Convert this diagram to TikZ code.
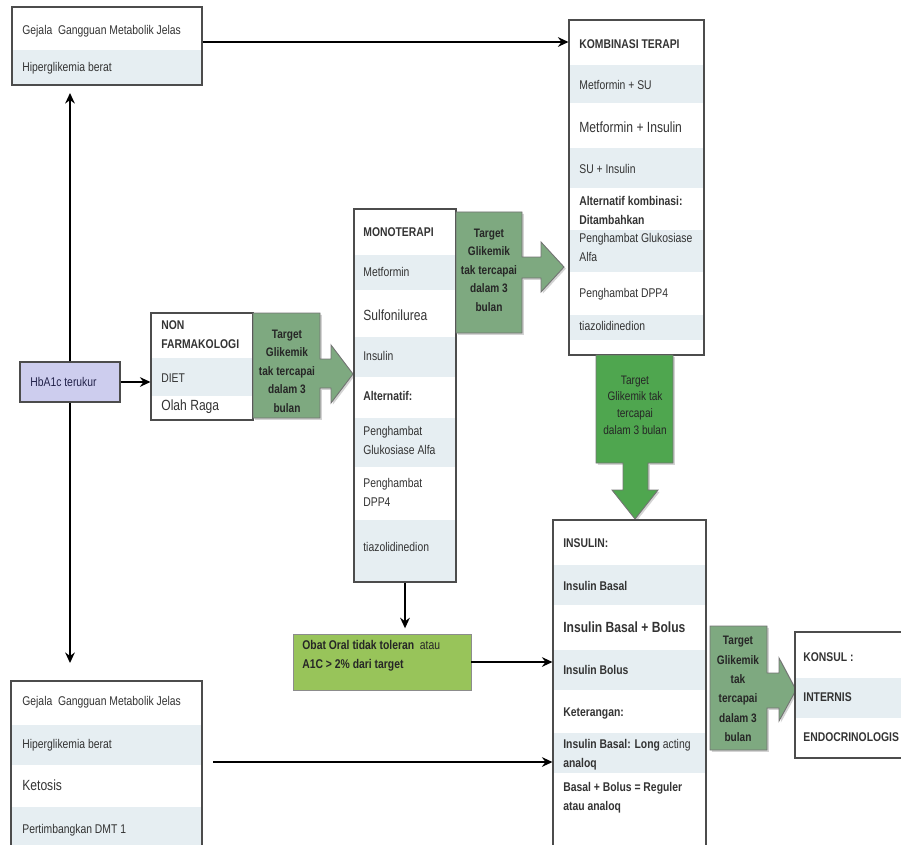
\documentclass[tikz,border=0pt]{standalone}
\usepackage{fontspec}
\setmainfont[FakeStretch=0.82]{Liberation Sans}
\usepackage{xcolor}
\usepackage{tikz}
\usetikzlibrary{
  arrows.meta,
  positioning,
  fit,
  calc,
  shadows
}

\definecolor{rowblue}{HTML}{E6EEF2}
\definecolor{callgreen}{HTML}{7EA980}
\definecolor{brightgreen}{HTML}{4FA64F}
\definecolor{oralgreen}{HTML}{98C45A}
\definecolor{hbalav}{HTML}{CDCDEE}
\definecolor{navy}{HTML}{22224A}

\begin{document}
\begin{tikzpicture}[
    x=0.02cm, y=-0.02cm,
    frame/.style={draw=black!70, line width=0.6pt, inner sep=0pt},
    shade/.style={fill=rowblue},
    txt/.style={anchor=west, inner sep=0pt, align=left, text=black!80,
                font=\fontsize{7.2}{10.8}\selectfont},
    big/.style={txt, font=\fontsize{8.4}{11}\selectfont},
    bld/.style={txt, font=\fontsize{7.2}{10.8}\selectfont\bfseries},
    bigb/.style={txt, font=\fontsize{8.4}{11}\selectfont\bfseries},
    arr/.style={-{Stealth[length=6pt, width=5.5pt, inset=2pt]}, line width=1.1pt},
    call/.style={fill=callgreen, draw=black!55, line width=0.5pt,
                 drop shadow={opacity=0.35, shadow xshift=1pt, shadow yshift=-1pt}},
    calltxt/.style={align=center, inner sep=0pt, text=black!85,
                    font=\fontsize{7}{10.5}\selectfont\bfseries},
  ]
  \clip (0,0) rectangle (901,844);

  % ---- Gejala (atas) ----
  \fill[shade] (12,50) rectangle (202,85);
  \node[frame, fit={(12,7) (202,85)}] (gejA) {};
  \node[txt] (gejA1) at (22,31) {Gejala\ \ Gangguan Metabolik Jelas};
  \node[txt] (gejA2) at (22,68) {Hiperglikemia berat};

  % ---- HbA1c ----
  \node[draw=black!70, fill=hbalav, line width=0.6pt, inner sep=0pt,
        minimum width=2cm, minimum height=0.8cm] (hba) at (70,382) {};
  \node[txt, text=navy] (hbatxt) at (30,382) {HbA1c terukur};
  \coordinate (upTip) at (70,93);
  \coordinate (downTip) at (70,663);

  % ---- Non farmakologi ----
  \fill[shade] (151,358) rectangle (253,396);
  \node[frame, fit={(151,313) (253,420)}] (nonf) {};
  \node[bld] (nf1) at (161,335) {NON\\FARMAKOLOGI};
  \node[txt] (nf2) at (161,378) {DIET};
  \node[big] (nf3) at (161,407) {Olah Raga};

  % ---- Callout 1 ----
  \filldraw[call] (253,313) -- (320,313) -- (320,359) -- (331,359) -- (331,345)
    -- (353,374) -- (331,403) -- (331,388) -- (320,388) -- (320,418)
    -- (253,418) -- cycle;
  \node[calltxt] (tg1) at (287,371) {Target\\Glikemik\\tak tercapai\\dalam 3\\bulan};

  % ---- Monoterapi ----
  \fill[shade] (354,255) rectangle (456,290);
  \fill[shade] (354,337) rectangle (456,377);
  \fill[shade] (354,418) rectangle (456,467);
  \fill[shade] (354,520) rectangle (456,582);
  \node[frame, fit={(354,209) (456,582)}] (mono) {};
  \node[bld] (mo1) at (363,232) {MONOTERAPI};
  \node[txt] (mo2) at (363,272) {Metformin};
  \node[big] (mo3) at (363,315) {Sulfonilurea};
  \node[txt] (mo4) at (363,356) {Insulin};
  \node[bld] (mo5) at (363,396) {Alternatif:};
  \node[txt] (mo6) at (363,440) {Penghambat\\Glukosiase Alfa};
  \node[txt] (mo7) at (363,492) {Penghambat\\DPP4};
  \node[txt] (mo8) at (363,547) {tiazolidinedion};

  % ---- Callout 2 ----
  \filldraw[call] (456,212) -- (522,212) -- (522,257) -- (541,257) -- (541,242)
    -- (564,267) -- (541,292) -- (541,278) -- (522,278) -- (522,333)
    -- (456,333) -- cycle;
  \node[calltxt] (tg2) at (489,270) {Target\\Glikemik\\tak tercapai\\dalam 3\\bulan};

  % ---- Kombinasi terapi ----
  \fill[shade] (569,65) rectangle (704,103);
  \fill[shade] (569,148) rectangle (704,188);
  \fill[shade] (569,230) rectangle (704,272);
  \fill[shade] (569,315) rectangle (704,340);
  \node[frame, fit={(569,20) (704,355)}] (komb) {};
  \node[bld] (ko1) at (579,44) {KOMBINASI TERAPI};
  \node[txt] (ko2) at (579,85) {Metformin + SU};
  \node[big] (ko3) at (579,127) {Metformin + Insulin};
  \node[txt] (ko4) at (579,169) {SU + Insulin};
  \node[bld] (ko5) at (579,210) {Alternatif kombinasi:\\Ditambahkan};
  \node[txt] (ko6) at (579,247) {Penghambat Glukosiase\\Alfa};
  \node[txt] (ko7) at (579,294) {Penghambat DPP4};
  \node[txt] (ko8) at (579,326) {tiazolidinedion};

  % ---- Callout 3 ----
  \filldraw[call, fill=brightgreen] (596,355) -- (673,355) -- (673,463)
    -- (648,463) -- (648,490) -- (658,490) -- (635,519) -- (612,490)
    -- (623,490) -- (623,463) -- (596,463) -- cycle;
  \node[calltxt, font=\fontsize{7}{9.5}\selectfont] (tg3) at (635,405)
    {Target\\Glikemik tak\\tercapai\\dalam 3 bulan};

  % ---- Insulin ----
  \fill[shade] (553,565) rectangle (706,605);
  \fill[shade] (553,650) rectangle (706,690);
  \fill[shade] (553,733) rectangle (706,773);
  \node[frame, fit={(553,520) (706,850)}] (ins) {};
  \node[bld] (in1) at (563,543) {INSULIN:};
  \node[bld] (in2) at (563,586) {Insulin Basal};
  \node[bigb] (in3) at (563,627) {Insulin Basal + Bolus};
  \node[bld] (in4) at (563,670) {Insulin Bolus};
  \node[bld] (in5) at (563,713) {Keterangan:};
  \node[txt] (in6) at (563,755) {\textbf{Insulin Basal: Long} acting\\\textbf{analoq}};
  \node[bld] (in7) at (563,798) {Basal + Bolus = Reguler\\atau analoq};

  % ---- Callout 4 ----
  \filldraw[call] (710,626) -- (767,626) -- (767,673) -- (779,673) -- (779,658)
    -- (796,690) -- (779,721) -- (779,708) -- (767,708) -- (767,750)
    -- (710,750) -- cycle;
  \node[calltxt, font=\fontsize{7}{11}\selectfont\bfseries] (tg4) at (738,689)
    {Target\\Glikemik\\tak\\tercapai\\dalam 3\\bulan};

  % ---- Konsul ----
  \fill[shade] (795,678) rectangle (915,718);
  \node[frame, fit={(795,632) (915,758)}] (konsul) {};
  \node[bld] (ks1) at (803,657) {KONSUL :};
  \node[bld] (ks2) at (803,697) {INTERNIS};
  \node[bld] (ks3) at (803,737) {ENDOCRINOLOGIS};

  % ---- Gejala (bawah) ----
  \fill[shade] (11,725) rectangle (202,765);
  \fill[shade] (11,807) rectangle (202,850);
  \node[frame, fit={(11,681) (202,850)}] (gejB) {};
  \node[txt] (gejB1) at (22,702) {Gejala\ \ Gangguan Metabolik Jelas};
  \node[txt] (gejB2) at (22,745) {Hiperglikemia berat};
  \node[big] (gejB3) at (22,785) {Ketosis};
  \node[txt] (gejB4) at (22,830) {Pertimbangkan DMT 1};

  % ---- Obat oral ----
  \node[draw=black!45, fill=oralgreen, line width=0.5pt, inner sep=0pt,
        fit={(293,634) (471,690)}] (oral) {};
  \node[txt, anchor=north west, text=black!85] (oraltxt) at (302,640)
    {\textbf{Obat Oral tidak toleran}\ \ atau\\\textbf{A1C > 2\% dari target}};

  % ---- Arrows ----
  \draw[arr] (gejA.east |- 0,42) -- (komb.west |- 0,42);
  \draw[arr] (hba.north) -- (upTip);
  \draw[arr] (hba.south) -- (downTip);
  \draw[arr] (hba.east) -- (nonf.west |- hba.east);
  \draw[arr] (mono.south) -- ([yshift=3pt]oral.north -| mono.south);
  \draw[arr] (oral.east) -- (ins.west |- oral.east);
  \draw[arr] ([xshift=6pt]gejB.east |- 0,762) -- (ins.west |- 0,762);

\end{tikzpicture}
\end{document}
